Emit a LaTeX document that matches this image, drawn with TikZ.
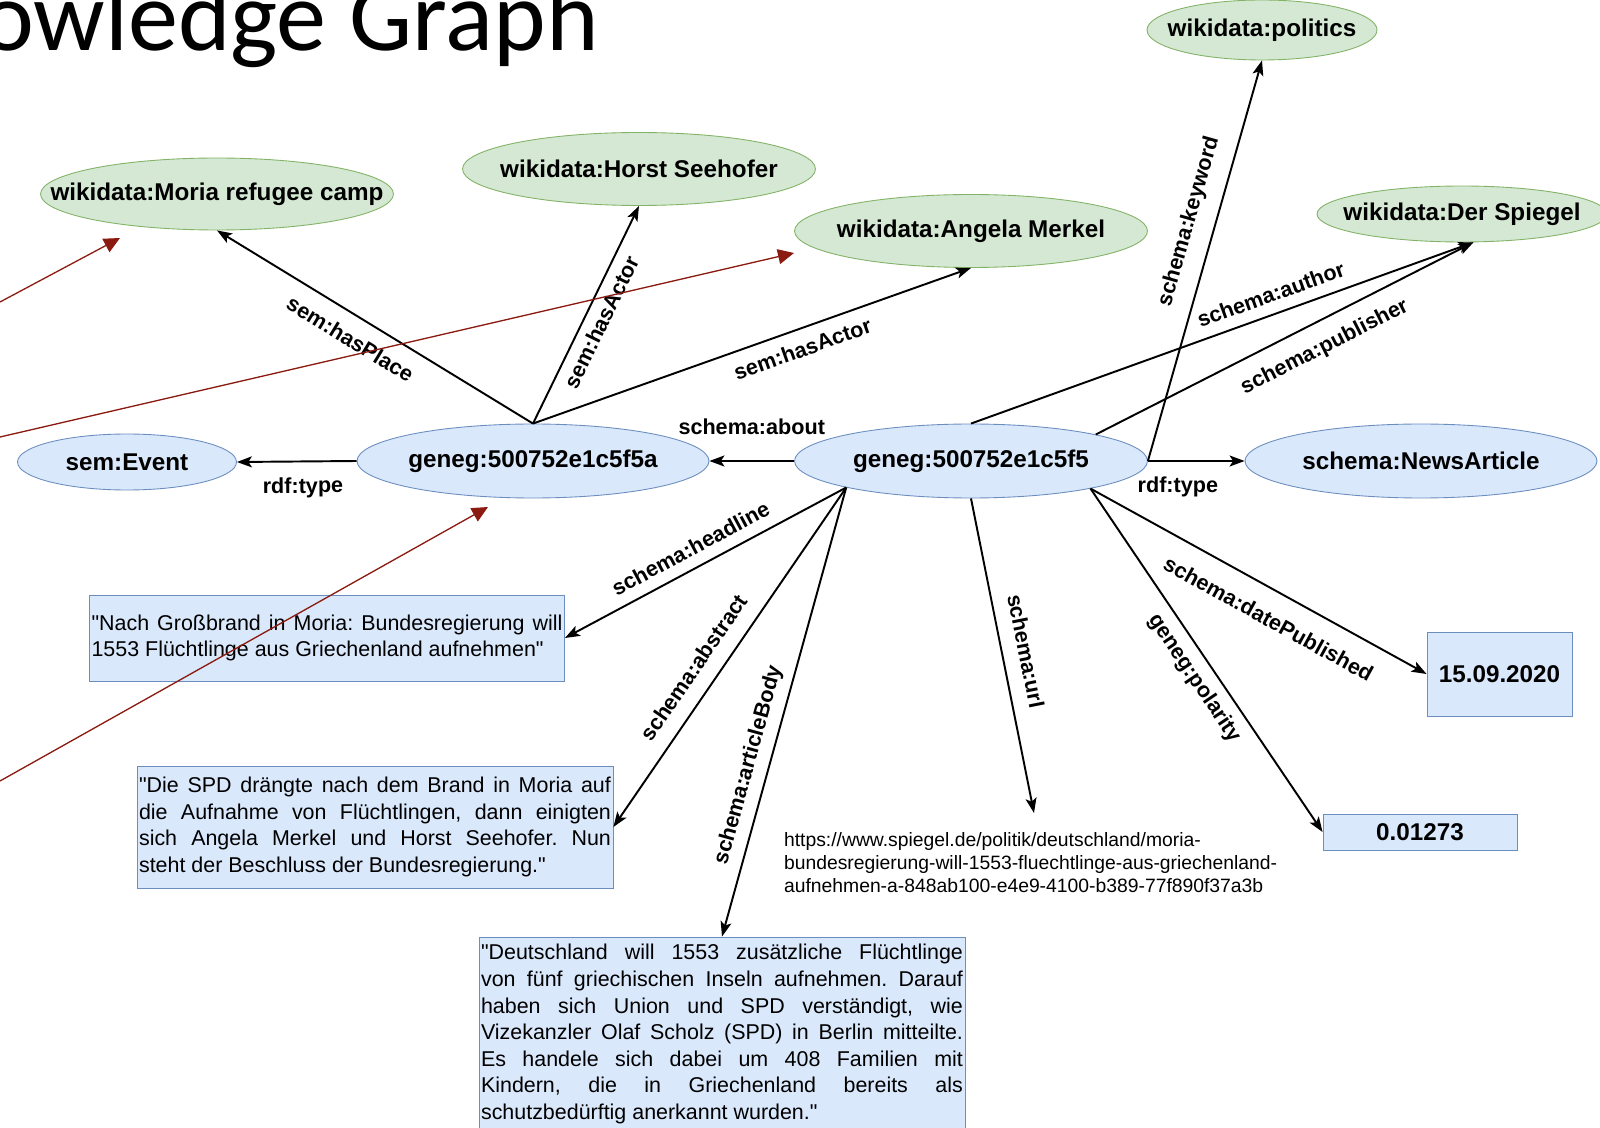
\documentclass[tikz,border=0pt]{standalone}
\usepackage{fontspec}
\setmainfont{Liberation Sans}[Ligatures=TeXOff]
\newfontfamily\titlefont{Carlito}
\usetikzlibrary{shapes.geometric,arrows.meta}
\frenchspacing

\definecolor{wikifill}{HTML}{D5E8D4}
\definecolor{wikiline}{HTML}{82B366}
\definecolor{genegfill}{HTML}{DAE8FC}
\definecolor{genegline}{HTML}{6C8EBF}
\definecolor{linkred}{HTML}{8B1A10}

\tikzset{
	wiki/.style={ellipse,draw=wikiline,fill=wikifill,line width=0.5pt,inner xsep=-3cm,inner ysep=0pt,
		font=\fontsize{13.8}{16}\selectfont\bfseries},
	res/.style={ellipse,draw=genegline,fill=genegfill,line width=0.5pt,inner xsep=-3cm,inner ysep=0pt,
		font=\fontsize{13.8}{16}\selectfont\bfseries},
	lit/.style={rectangle,draw=genegline,fill=genegfill,line width=0.5pt,inner xsep=0.04cm,
		inner ysep=0pt,align=justify,font=\fontsize{12.2}{15.1}\selectfont},
	val/.style={rectangle,draw=genegline,fill=genegfill,line width=0.5pt,inner sep=0pt,
		font=\fontsize{13.8}{16}\selectfont\bfseries},
	rel/.style={line width=1.1pt,-{Stealth[length=0.3cm,width=0.22cm,inset=0.07cm]}},
	lbl/.style={sloped,inner sep=0pt,font=\fontsize{12.3}{14}\selectfont\bfseries},
	ref/.style={draw=linkred,line width=0.75pt,-{Triangle[length=0.32cm,width=0.3cm]}}
}

\begin{document}
\begin{tikzpicture}[x=0.02cm,y=-0.02cm]
	\useasboundingbox (0,0) rectangle (1600,1128);
	\clip (0,0) rectangle (1600,1128);
	\fill[white] (0,0) rectangle (1600,1128);

	\node[anchor=base east,inner sep=0pt,font=\titlefont\fontsize{57}{62}\selectfont] (title) at (599,51) {owledge Graph};

	\node[wiki,minimum width=4.6cm,minimum height=1.2cm] (politics) at (1262,30) {wikidata:politics};
	\node[wiki,minimum width=7.06cm,minimum height=1.46cm] (horst) at (639,169) {wikidata:Horst Seehofer};
	\node[wiki,minimum width=7.06cm,minimum height=1.44cm] (moria) at (217,194) {wikidata:Moria refugee camp};
	\node[wiki,minimum width=7.06cm,minimum height=1.46cm] (merkel) at (971,231) {wikidata:Angela Merkel};
	\node[wiki,minimum width=5.8cm,minimum height=1.12cm] (spiegel) at (1462,214) {wikidata:Der Spiegel};

	\node[res,minimum width=4.38cm,minimum height=1.12cm] (event) at (127,462) {sem:Event};
	\node[res,minimum width=7.04cm,minimum height=1.48cm] (f5a) at (533,461) {geneg:500752e1c5f5a};
	\node[res,minimum width=7.06cm,minimum height=1.48cm] (f5) at (971,461) {geneg:500752e1c5f5};
	\node[res,minimum width=7.04cm,minimum height=1.48cm] (news) at (1421,461) {schema:NewsArticle};

	\node[lit,text width=9.42cm,minimum height=1.72cm] (headline) at (327,638)
		{"Nach Großbrand in Moria: Bundesregierung will\linebreak 1553 Flüchtlinge aus Griechenland aufnehmen"};
	\node[lit,text width=9.44cm,minimum height=2.44cm] (abstract) at (375,827)
		{"Die SPD drängte nach dem Brand in Moria auf\linebreak die Aufnahme von Flüchtlingen, dann einigten\linebreak
		sich Angela Merkel und Horst Seehofer. Nun\linebreak steht der Beschluss der Bundesregierung."};
	\node[lit,text width=9.64cm,minimum height=3.88cm] (body) at (722,1034)
		{"Deutschland will 1553 zusätzliche Flüchtlinge\linebreak von fünf griechischen Inseln aufnehmen. Darauf\linebreak
		haben sich Union und SPD verständigt, wie\linebreak Vizekanzler Olaf Scholz (SPD) in Berlin mitteilte.\linebreak
		Es handele sich dabei um 408 Familien mit\linebreak Kindern, die in Griechenland bereits als\linebreak
		schutzbedürftig anerkannt wurden."};
	\node[val,minimum width=2.9cm,minimum height=1.68cm] (date) at (1499.5,674) {15.09.2020};
	\node[val,minimum width=3.88cm,minimum height=0.72cm] (polarity) at (1420,832) {0.01273};
	\node[anchor=north,inner xsep=0pt,inner ysep=0.38cm,text width=10cm,align=left,
		font=\fontsize{11}{13.1}\selectfont] (url) at (1034,813)
		{https://www.spiegel.de/politik/deutschland/moria-\\
		bundesregierung-will-1553-fluechtlinge-aus-griechenland-\\
		aufnehmen-a-848ab100-e4e9-4100-b389-77f890f37a3b};

	\draw (f5a.north) edge[rel] node[lbl,pos=0.54,below=0.28cm] {sem:hasPlace} (moria.south)
		(f5a.north) edge[rel] node[lbl,pos=0.5,below=0.16cm] {sem:hasActor} (horst.south)
		(f5a.north) edge[rel] node[lbl,pos=0.6,below=0.22cm] {sem:hasActor} (merkel.south)
		(f5a.west) edge[rel] node[lbl,pos=0.45,below=0.3cm] {rdf:type} (event.east);

	\draw (f5.west) edge[rel] node[lbl,pos=0.5,above=0.5cm] {schema:about} (f5a.east)
		(f5.east) edge[rel] node[lbl,pos=0.31,below=0.3cm] {rdf:type} (news.west)
		(f5.north) edge[rel] node[lbl,pos=0.61,above=0.22cm] {schema:author} (spiegel.-68)
		(f5.12) edge[rel] node[lbl,pos=0.575,below=0.3cm] {schema:publisher} (spiegel.-68)
		(f5.east) edge[rel] node[lbl,pos=0.58,above=0.3cm] {schema:keyword} (politics.south)
		(f5.192) edge[rel] node[lbl,pos=0.52,above=0.22cm] {schema:headline} (headline.east)
		(f5.192) edge[rel] node[lbl,pos=0.57,above=0.3cm] {schema:abstract} (abstract.east)
		(f5.192) edge[rel] node[lbl,pos=0.63,above=0.18cm] {schema:articleBody} (body.north)
		(f5.south) edge[rel] node[lbl,pos=0.5,above=0.3cm] {schema:url} (url.north)
		(f5.-13) edge[rel] node[lbl,pos=0.57,below=0.38cm] {schema:datePublished} (date.west)
		(f5.-13) edge[rel] node[lbl,pos=0.52,below=0.18cm] {geneg:polarity} (polarity.west);

	\coordinate (refa) at (0,302);
	\coordinate (refatip) at (120,238);
	\coordinate (refb) at (0,437);
	\coordinate (refbtip) at (794,253);
	\coordinate (refc) at (0,781);
	\coordinate (refctip) at (488,507);
	\draw[ref] (refa) -- (refatip);
	\draw[ref] (refb) -- (refbtip);
	\draw[ref] (refc) -- (refctip);
\end{tikzpicture}
\end{document}
